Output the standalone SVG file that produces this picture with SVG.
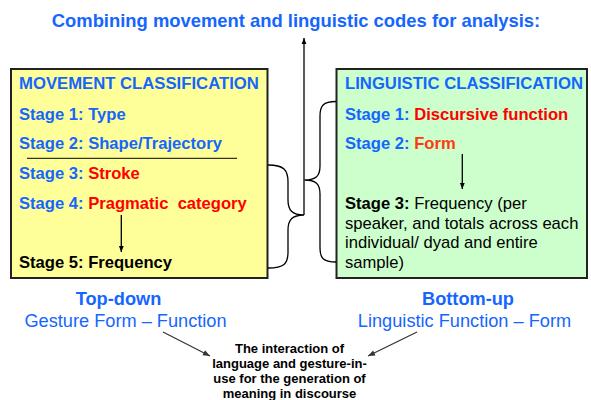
<svg xmlns="http://www.w3.org/2000/svg" width="591" height="400" viewBox="0 0 591 400">
  <style>
    text { font-family: "Liberation Sans", Arial, sans-serif; }
    .title { font-size: 18.4px; font-weight: bold; fill: #1466ff; }
    .head { font-size: 16.7px; font-weight: bold; fill: #1466ff; }
    .bl { fill: #1466ff; }
    .rd { fill: #ff0000; }
    .or { fill: #ff3a10; }
    .bk { fill: #000; }
    .b { font-weight: bold; }
    .txt { font-size: 16.6px; }
    .lbl { font-size: 18.2px; fill: #1466ff; }
    .note { font-size: 13px; font-weight: bold; fill: #000; text-anchor: middle; }
    .box { stroke: #222; stroke-width: 2; }
    .wire { fill: none; stroke: #000; stroke-width: 1.3; }
    .grey { fill: none; stroke: #333; stroke-width: 1.2; }
  </style>
  <defs>
    <marker id="ah" viewBox="0 0 10 10" refX="10" refY="5" markerWidth="6" markerHeight="6" orient="auto" markerUnits="userSpaceOnUse">
      <path d="M0,1 L10,5 L0,9 z" fill="#000"/>
    </marker>
    <marker id="ahg" viewBox="0 0 10 10" refX="10" refY="5" markerWidth="8" markerHeight="7" orient="auto" markerUnits="userSpaceOnUse">
      <path d="M0,1 L10,5 L0,9 z" fill="#333"/>
    </marker>
  </defs>

  <rect width="591" height="400" fill="#fff"/>

  <text class="title" x="296" y="27" text-anchor="middle">Combining movement and linguistic codes for analysis:</text>

  <!-- movement classification box -->
  <g id="movement">
    <rect class="box" x="11" y="69" width="256.5" height="209" fill="#ffff99"/>
    <text class="head" x="19" y="89.3">MOVEMENT CLASSIFICATION</text>
    <text class="txt b bl" x="19" y="120">Stage 1: Type</text>
    <text class="txt b bl" x="19" y="149.3">Stage 2: Shape/Trajectory</text>
    <line x1="27" y1="158.3" x2="237" y2="158.3" stroke="#000" stroke-width="1"/>
    <text class="txt b" x="19" y="179.3"><tspan class="bl">Stage 3: </tspan><tspan class="rd">Stroke</tspan></text>
    <text class="txt b" x="19" y="209.3" xml:space="preserve"><tspan class="bl">Stage 4: </tspan><tspan class="rd">Pragmatic  category</tspan></text>
    <line class="wire" x1="121.3" y1="215" x2="121.3" y2="252" marker-end="url(#ah)"/>
    <text class="txt b bk" x="19" y="268.3">Stage 5: Frequency</text>
  </g>

  <!-- linguistic classification box -->
  <g id="linguistic">
    <rect class="box" x="336.5" y="69" width="250.5" height="209" fill="#ccffcc"/>
    <text class="head" x="345" y="89.3">LINGUISTIC CLASSIFICATION</text>
    <text class="txt b" x="345" y="119.5"><tspan class="bl">Stage 1: </tspan><tspan class="rd">Discursive function</tspan></text>
    <text class="txt b" x="345" y="149.3"><tspan class="bl">Stage 2: </tspan><tspan class="or">Form</tspan></text>
    <line class="wire" x1="462.3" y1="154" x2="462.3" y2="189" marker-end="url(#ah)"/>
    <text class="txt bk" x="345" y="209.3"><tspan class="b">Stage 3:</tspan> Frequency (per</text>
    <text class="txt bk" x="345" y="228.8">speaker, and totals across each</text>
    <text class="txt bk" x="345" y="248.2">individual/ dyad and entire</text>
    <text class="txt bk" x="345" y="267.5">sample)</text>
  </g>

  <!-- braces and combining arrow -->
  <g id="connectors">
    <path class="wire" d="M268,165 C284,165 288,170 288,182 L288,200 C288,210 292,215 304,215 C292,215 288,220 288,230 L288,252 C288,264 284,268 268,268"/>
    <path class="wire" d="M336,101.5 C323,101.5 320,106 320,116 L320,166 C320,176 316,180 304.5,180 C316,180 320,184 320,194 L320,248 C320,258 323,262 336,262"/>
    <line class="wire" x1="304" y1="215" x2="304" y2="38" marker-end="url(#ah)"/>
    <line class="grey" x1="163" y1="332" x2="210" y2="356" marker-end="url(#ahg)"/>
    <line class="grey" x1="417" y1="332" x2="368" y2="356" marker-end="url(#ahg)"/>
  </g>

  <g id="top-down">
    <text class="lbl b" x="118.5" y="305" text-anchor="middle">Top-down</text>
    <text class="lbl" x="125.5" y="327" text-anchor="middle">Gesture Form – Function</text>
  </g>

  <g id="bottom-up">
    <text class="lbl b" x="468" y="305" text-anchor="middle">Bottom-up</text>
    <text class="lbl" x="464.5" y="327" text-anchor="middle">Linguistic Function – Form</text>
  </g>

  <g id="interaction">
    <text class="note" x="289.5" y="353">The interaction of</text>
    <text class="note" x="289.5" y="368">language and gesture-in-</text>
    <text class="note" x="289.5" y="383">use for the generation of</text>
    <text class="note" x="289.5" y="398">meaning in discourse</text>
  </g>
</svg>
